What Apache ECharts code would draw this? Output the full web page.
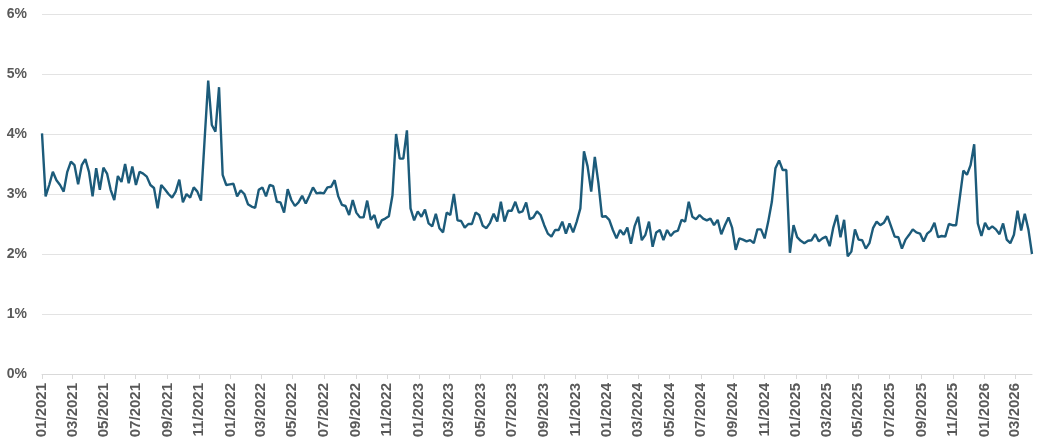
<!DOCTYPE html>
<html>
<head>
<meta charset="utf-8">
<script src="https://cdn.jsdelivr.net/npm/echarts@6/dist/echarts.min.js"></script>
<style>
html,body{margin:0;padding:0;background:#fff;}
#chart{width:1044px;height:445px;}
</style>
</head>
<body>
<div id="chart"></div>
<script>
// Weekly series, first week starting 2021-01-01
const startWeek = [2021, 0, 1];
const rates = [
  4.01,2.96,3.15,3.37,3.23,3.15,3.04,3.37,3.54,3.48,
  3.16,3.48,3.58,3.37,2.96,3.43,3.07,3.44,3.34,3.07,
  2.90,3.30,3.20,3.50,3.18,3.46,3.15,3.37,3.34,3.29,
  3.15,3.10,2.76,3.15,3.08,3.00,2.94,3.04,3.24,2.86,
  3.00,2.94,3.11,3.04,2.89,3.90,4.89,4.15,4.04,4.78,
  3.32,3.15,3.16,3.17,2.96,3.06,3.00,2.83,2.79,2.77,
  3.07,3.11,2.96,3.15,3.13,2.87,2.86,2.69,3.08,2.90,
  2.80,2.86,2.97,2.84,2.97,3.11,3.01,3.02,3.01,3.11,
  3.12,3.23,2.96,2.82,2.80,2.65,2.90,2.69,2.61,2.61,
  2.89,2.57,2.65,2.43,2.56,2.59,2.63,2.98,4.00,3.59,
  3.59,4.06,2.76,2.56,2.71,2.62,2.74,2.51,2.46,2.67,
  2.43,2.36,2.69,2.65,3.00,2.56,2.55,2.44,2.50,2.50,
  2.69,2.65,2.47,2.43,2.52,2.67,2.54,2.87,2.54,2.72,
  2.72,2.87,2.69,2.71,2.86,2.58,2.61,2.71,2.65,2.48,
  2.34,2.29,2.40,2.40,2.54,2.34,2.51,2.36,2.54,2.76,
  3.71,3.46,3.04,3.62,3.18,2.62,2.63,2.57,2.40,2.26,
  2.40,2.32,2.44,2.17,2.46,2.62,2.23,2.32,2.54,2.12,
  2.36,2.40,2.23,2.40,2.30,2.37,2.39,2.57,2.54,2.87,
  2.62,2.58,2.65,2.59,2.56,2.59,2.48,2.57,2.33,2.48,
  2.61,2.44,2.07,2.26,2.24,2.21,2.23,2.18,2.41,2.41,
  2.26,2.54,2.87,3.43,3.56,3.40,3.40,2.02,2.48,2.28,
  2.22,2.18,2.22,2.23,2.33,2.21,2.26,2.29,2.13,2.44,
  2.65,2.28,2.57,1.96,2.04,2.41,2.24,2.23,2.09,2.18,
  2.43,2.54,2.48,2.52,2.63,2.46,2.29,2.28,2.09,2.24,
  2.32,2.41,2.36,2.34,2.21,2.34,2.39,2.52,2.28,2.30,
  2.29,2.50,2.48,2.48,2.93,3.39,3.32,3.48,3.83,2.51,
  2.30,2.52,2.41,2.46,2.41,2.33,2.51,2.24,2.18,2.32,
  2.72,2.39,2.67,2.41,2.00
];
const yTicks = [0, 1, 2, 3, 4, 5, 6];
// x labels: 1st of every second month, 01/2021 .. 03/2026
const labelMonths = [];
for (let y = 2021; y <= 2026; y++) {
  for (let m = 0; m < 12; m += 2) {
    if (y === 2026 && m > 2) break;
    labelMonths.push([y, m]);
  }
}

const weeks = rates.map((_, i) => new Date(startWeek[0], startWeek[1], startWeek[2] + 7 * i).getTime());
const seriesData = rates.map((v, i) => [weeks[i], v]);
const labelValues = labelMonths.map(d => new Date(d[0], d[1], 1).getTime());

const chart = echarts.init(document.getElementById('chart'));
const labelFont = {
  color: '#595959',
  fontFamily: 'Liberation Sans, Arial, sans-serif',
  fontWeight: 'bold'
};
chart.setOption({
  animation: false,
  backgroundColor: '#ffffff',
  grid: { left: 42, right: 12, top: 14, bottom: 71, containLabel: false },
  xAxis: {
    type: 'value',
    min: weeks[0],
    max: weeks[weeks.length - 1],
    scale: true,
    axisLine: { show: true, lineStyle: { color: '#d9d9d9', width: 1 } },
    axisTick: { show: true, length: 5, lineStyle: { color: '#d9d9d9' }, customValues: labelValues },
    splitLine: { show: false },
    axisLabel: Object.assign({
      rotate: 90,
      margin: 9,
      fontSize: 15,
      customValues: labelValues,
      formatter: function (val) {
        const d = new Date(val);
        const mm = String(d.getMonth() + 1).padStart(2, '0');
        return mm + '/' + d.getFullYear();
      }
    }, labelFont)
  },
  yAxis: {
    type: 'value',
    min: yTicks[0],
    max: yTicks[yTicks.length - 1],
    interval: 1,
    axisLine: { show: false },
    axisTick: { show: false },
    splitLine: { show: true, lineStyle: { color: '#e3e3e3', width: 1 } },
    axisLabel: Object.assign({ margin: 15, fontSize: 14, formatter: '{value}%' }, labelFont)
  },
  series: [{
    type: 'line',
    data: seriesData,
    showSymbol: false,
    symbol: 'none',
    lineStyle: { color: '#1c5b7a', width: 2.4 },
    itemStyle: { color: '#1c5b7a' }
  }]
});
</script>
</body>
</html>
